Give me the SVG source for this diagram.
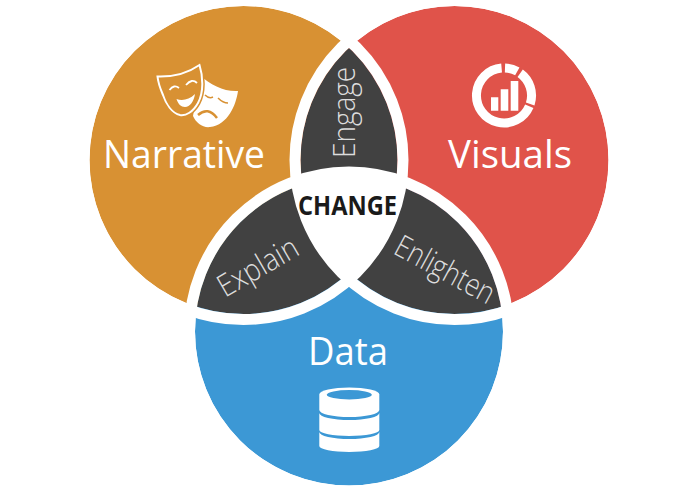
<svg xmlns="http://www.w3.org/2000/svg" width="700" height="490" viewBox="0 0 700 490">
<style>
text{font-family:"Open Sans","Liberation Sans",sans-serif}
.big{fill:#fff;font-size:39px;font-weight:400}
.small{fill:#dcdcdc;font-size:31px;font-weight:300}
.band{fill:none;stroke:#fff;stroke-width:11}
.dark{fill:#414141}
</style>
<defs>
<clipPath id="cO"><circle cx="243.5" cy="160" r="154"/></clipPath>
<clipPath id="cR"><circle cx="454.5" cy="160" r="154"/></clipPath>
<clipPath id="cO2"><circle cx="243.5" cy="160" r="156"/></clipPath>
<clipPath id="cR2"><circle cx="454.5" cy="160" r="156"/></clipPath>
</defs>
<rect width="700" height="490" fill="#fff"/>
<g id="narrative"><circle cx="243.5" cy="160" r="154" fill="#D89133"/></g>
<g id="visuals"><circle cx="454.5" cy="160" r="154" fill="#E0534A"/></g>
<g id="data"><circle cx="349" cy="331.5" r="154" fill="#3C98D5"/></g>
<g id="overlaps">
<g clip-path="url(#cO)"><circle class="dark" cx="454.5" cy="160" r="154"/><circle class="dark" cx="349" cy="331.5" r="154"/></g>
<g clip-path="url(#cR)"><circle class="dark" cx="349" cy="331.5" r="154"/></g>
</g>
<g id="bands">
<circle class="band" cx="243.5" cy="160" r="159.5"/>
<circle class="band" cx="454.5" cy="160" r="159.5"/>
<circle class="band" cx="349" cy="331.5" r="159.5"/>
</g>
<g id="centre"><g clip-path="url(#cO2)"><g clip-path="url(#cR2)"><circle cx="349" cy="331.5" r="156" fill="#fff"/></g></g></g>
<g id="narrative-label">
<path d="M200 75C210 85 225 92 238 91C236 105 228 125 210 127C203 128 196 123 193 116Z" fill="#fff"/>
<path d="M157.500 76.500C172 77 188 73 199.500 65C203 76 204 92 198 103C193 112 186 116 180 115C172 113 166 104 163 95C160 88 158 82 157.500 76.500Z" fill="#D89133" stroke="#D89133" stroke-width="5"/>
<path d="M157.500 76.500C172 77 188 73 199.500 65C203 76 204 92 198 103C193 112 186 116 180 115C172 113 166 104 163 95C160 88 158 82 157.500 76.500Z" fill="#D89133" stroke="#fff" stroke-width="2"/>
<path d="M169.500 90Q174 84 179 88M186 85Q192 78 197 83" fill="none" stroke="#fff" stroke-width="1.800"/>
<path d="M176.500 99C182 101 189 100 195 94C194 101 190 107 185 107C181 107 178 104 176.500 99Z" fill="#fff"/>
<path d="M205 95Q209 99 213 97M218 98Q223 103 228 103" fill="none" stroke="#D89133" stroke-width="1.500"/>
<path d="M198 115Q208 106 217 118" fill="none" stroke="#D89133" stroke-width="2.500"/>
<text class="big" x="103" y="168" textLength="162" lengthAdjust="spacingAndGlyphs">Narrative</text>
</g>
<g id="visuals-label">
<path d="M505 68A27.500 27.500 0 0 1 517.300 71.400M520.200 73.250A27.500 27.500 0 0 1 530.200 104M529.300 106.200A27.500 27.500 0 1 1 501.600 68.100" fill="none" stroke="#fff" stroke-width="9"/>
<path d="M491 97.300H498.300V110.700H491ZM500.700 89.300H508.300V110.700H500.700ZM510.700 81H518.300V110.700H510.700Z" fill="#fff"/>
<text class="big" x="448" y="168" textLength="124" lengthAdjust="spacingAndGlyphs">Visuals</text>
</g>
<g id="data-label">
<path d="M319.300 394.500A30 7 0 0 1 379.300 394.500V410A30 7 0 0 1 319.300 410Z" fill="#fff"/>
<ellipse cx="349.300" cy="394.700" rx="22.500" ry="4.700" fill="#3C98D5"/>
<path d="M319.300 413A30 7 0 0 0 379.300 413V430A30 6 0 0 1 319.300 430Z" fill="#fff"/>
<path d="M319.300 432A30 7 0 0 0 379.300 432V446A30 6 0 0 1 319.300 446Z" fill="#fff"/>
<text class="big" x="308" y="365" textLength="80" lengthAdjust="spacingAndGlyphs">Data</text>
</g>
<g id="engage"><text class="small" transform="translate(355 158) rotate(-90)" textLength="91" lengthAdjust="spacingAndGlyphs">Engage</text></g>
<g id="explain"><text class="small" transform="translate(225 298) rotate(-30)" textLength="88" lengthAdjust="spacingAndGlyphs">Explain</text></g>
<g id="enlighten"><text class="small" transform="translate(392 253) rotate(28.400)" textLength="109" lengthAdjust="spacingAndGlyphs">Enlighten</text></g>
<g id="change"><text x="298" y="215" font-size="26" font-weight="700" fill="#1a1a1a" textLength="99" lengthAdjust="spacingAndGlyphs">CHANGE</text></g>
</svg>
